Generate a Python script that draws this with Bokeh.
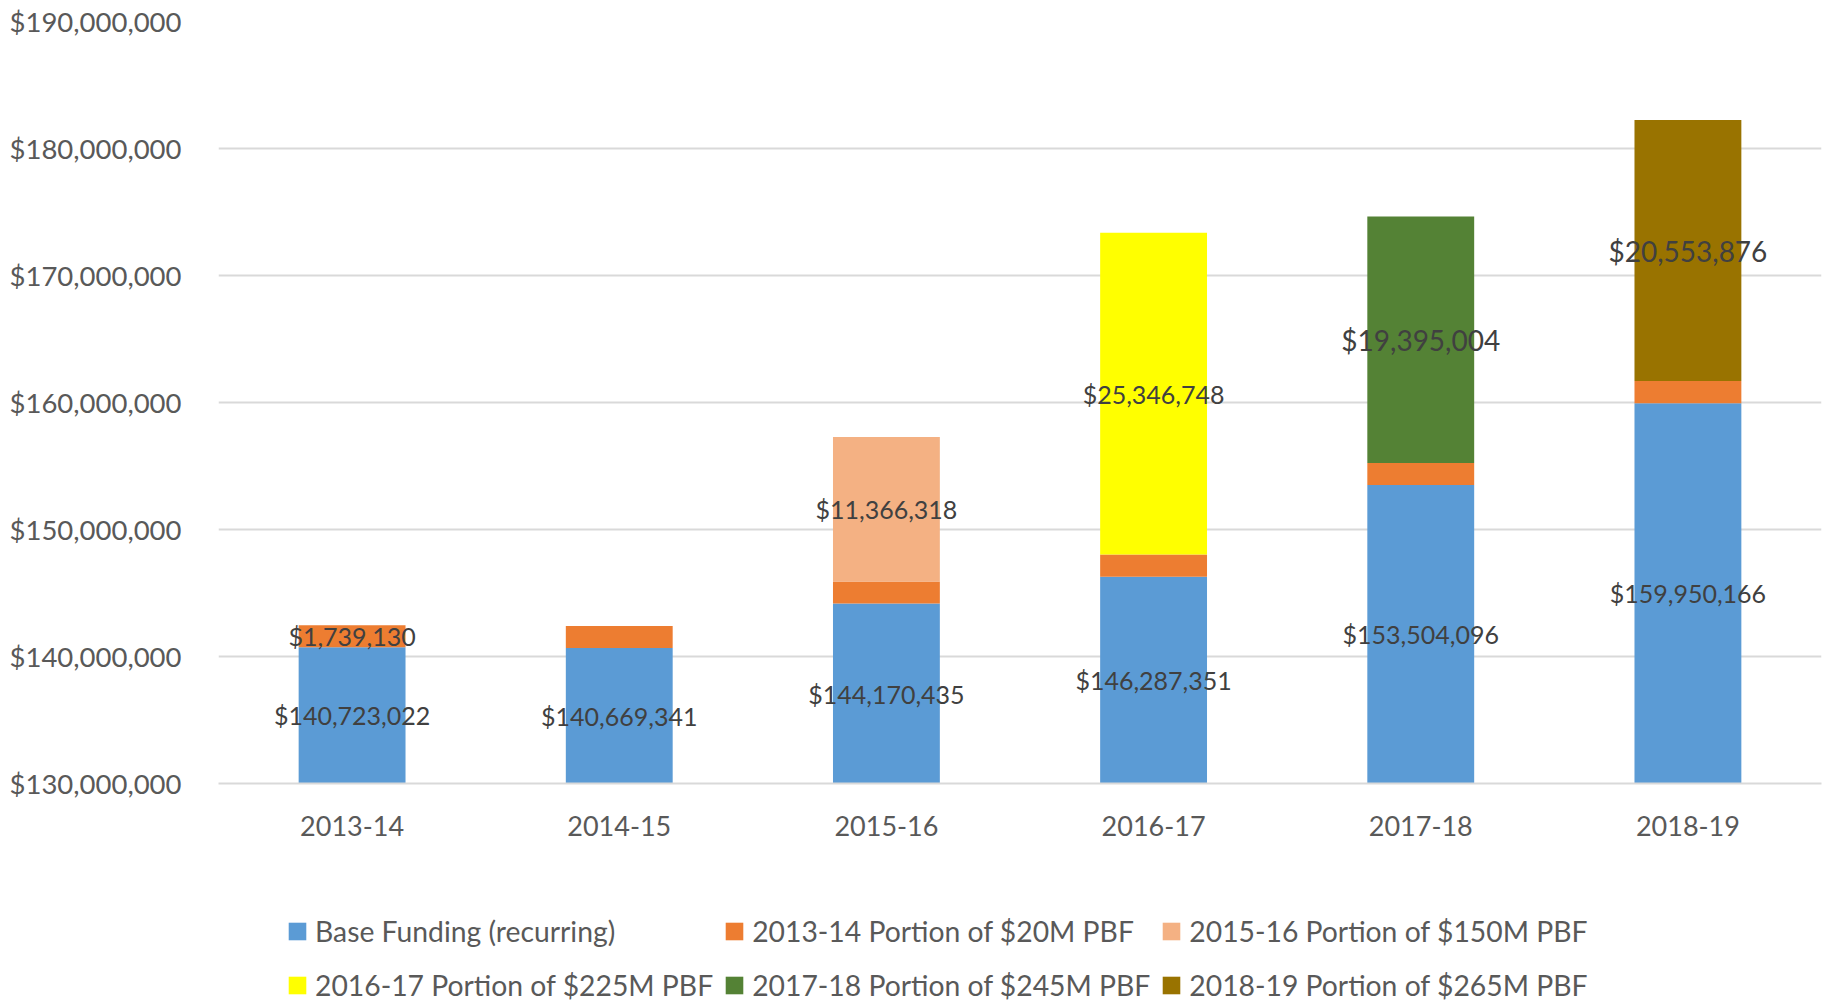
from bokeh.plotting import figure
from bokeh.layouts import column
from bokeh.models import (Range1d, FactorRange, NumeralTickFormatter, SingleIntervalTicker,
                          Legend, LegendItem, ColumnDataSource)
from bokeh.core.properties import value
from bokeh.embed import file_html
from bokeh.resources import INLINE

years = ["2013-14", "2014-15", "2015-16", "2016-17", "2017-18", "2018-19"]
base_funding = [140723022, 140669341, 144170435, 146287351, 153504096, 159950166]
pbf_2013 = [1739130, 1739130, 1739130, 1739130, 1739130, 1739130]
pbf_2015 = [0, 0, 11366318, 0, 0, 0]
pbf_2016 = [0, 0, 0, 25346748, 0, 0]
pbf_2017 = [0, 0, 0, 0, 19395004, 0]
pbf_2018 = [0, 0, 0, 0, 0, 20553876]

series_names = ["Base Funding (recurring)", "2013-14 Portion of $20M PBF",
                "2015-16 Portion of $150M PBF", "2016-17 Portion of $225M PBF",
                "2017-18 Portion of $245M PBF", "2018-19 Portion of $265M PBF"]
series_keys = ["base", "p13", "p15", "p16", "p17", "p18"]
colors = ["#5B9BD5", "#ED7D31", "#F4B183", "#FFFF00", "#548235", "#997300"]
# which data labels are shown, per series (by year index)
label_shown = {
    "base": [0, 1, 2, 3, 4, 5],
    "p13": [0],
    "p15": [2],
    "p16": [3],
    "p17": [4],
    "p18": [5],
}
label_size = {"base": "25px", "p13": "25px", "p15": "25px", "p16": "25px",
              "p17": "28px", "p18": "28px"}

y_min, y_max, y_step = 130000000, 190000000, 10000000

FONT = "Lato"
data = dict(years=years, base=base_funding, p13=pbf_2013, p15=pbf_2015,
            p16=pbf_2016, p17=pbf_2017, p18=pbf_2018)
src = ColumnDataSource(data)

p = figure(x_range=FactorRange(*years), y_range=Range1d(y_min, y_max),
           width=1828, height=864, output_backend="svg", toolbar_location=None,
           min_border_left=218, min_border_right=7, min_border_top=21,
           min_border_bottom=81)
p.outline_line_color = None

renderers = p.vbar_stack(series_keys, x="years", width=0.4, color=colors,
                         line_color=None, source=src)

# data labels at the middle of each visible segment
cum = [0] * len(years)
for key in series_keys:
    vals = data[key]
    xs, ys, txt = [], [], []
    for i, v in enumerate(vals):
        lo = max(cum[i], y_min)
        hi = cum[i] + v
        if i in label_shown[key]:
            xs.append(years[i])
            ys.append((lo + hi) / 2)
            txt.append("${:,}".format(v))
        cum[i] = hi
    p.text(x=xs, y=ys, text=txt, text_align="center", text_baseline="middle",
           text_font=value(FONT), text_font_size=label_size[key], text_color="#404040")

# axes
p.yaxis.ticker = SingleIntervalTicker(interval=y_step)
p.yaxis.formatter = NumeralTickFormatter(format="$0,0")
p.yaxis.axis_line_color = None
p.yaxis.major_tick_line_color = None
p.yaxis.minor_tick_line_color = None
p.yaxis.major_label_standoff = 31
p.yaxis.major_label_text_font = FONT
p.yaxis.major_label_text_font_size = "27.5px"
p.yaxis.major_label_text_color = "#595959"

p.xaxis.axis_line_color = "#d9d9d9"
p.xaxis.axis_line_width = 2
p.xaxis.major_tick_line_color = None
p.xaxis.minor_tick_line_color = None
p.xaxis.major_label_standoff = 26
p.xaxis.major_label_text_font = FONT
p.xaxis.major_label_text_font_size = "27px"
p.xaxis.major_label_text_color = "#595959"

p.xgrid.grid_line_color = None
p.ygrid.grid_line_color = "#d9d9d9"
p.ygrid.grid_line_width = 2

# legend panel underneath (separate figure so the legend is not clipped);
# its stacked bars use the same data, have zero width and lie outside its view
lg = figure(width=1828, height=137, output_backend="svg", toolbar_location=None,
            x_range=FactorRange(*years), y_range=Range1d(-2 * y_max, -y_max),
            min_border_left=218, min_border_right=7, min_border_top=0, min_border_bottom=0)
lg.axis.visible = False
lg.grid.visible = False
lg.outline_line_color = None
legend_renderers = lg.vbar_stack(series_keys, x="years", width=0, color=colors,
                                 line_color=None, source=src)

items = [LegendItem(label=n, renderers=[r]) for n, r in zip(series_names, legend_renderers)]
legend = Legend(items=items, orientation="horizontal", ncols=3,
                location=(68, -6), padding=0, margin=0, spacing=10,
                glyph_width=22, glyph_height=22, label_standoff=7, label_height=44,
                label_text_font=FONT, label_text_font_size="28.3px",
                label_text_color="#595959", background_fill_alpha=0,
                border_line_alpha=0)
lg.add_layout(legend)

layout = column(p, lg, spacing=0)
open("out.html", "w").write(file_html(layout, INLINE))
